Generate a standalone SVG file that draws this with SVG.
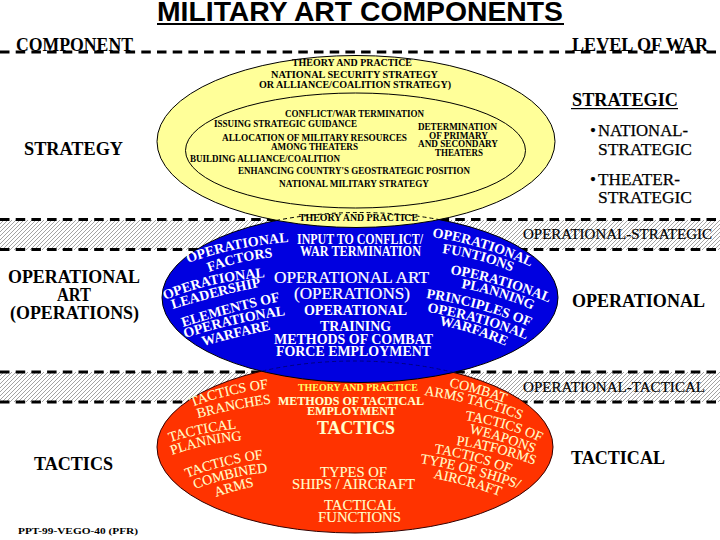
<svg xmlns="http://www.w3.org/2000/svg" width="720" height="540" viewBox="0 0 720 540">
<style>
text{font-family:"Liberation Serif","Times New Roman",serif;fill:#000;}
.s{font-weight:bold;font-size:10px;}
.m{font-size:18px;font-weight:bold;}
.n{font-size:17px;stroke:#000;stroke-width:.25px;}
.o{font-size:14px;stroke:#000;stroke-width:.2px;}
.w{fill:#fff;font-weight:bold;font-size:14px;}
.wl{fill:#fff;font-size:16px;stroke:#fff;stroke-width:.2px;}
.c{fill:#ffc;font-size:14px;stroke:#ffc;stroke-width:.1px;}
.dash{stroke:#000;stroke-width:3;stroke-dasharray:9.5 6.2;fill:none;}
</style>
<defs>
<pattern id="hatch" width="4" height="4" patternUnits="userSpaceOnUse">
<rect width="4" height="4" fill="#fff"/>
<path d="M-1,1 L1,-1 M0,4 L4,0 M3,5 L5,3" stroke="#999" stroke-width=".9"/>
</pattern>
<clipPath id="clipYellow"><ellipse cx="356" cy="141.5" rx="199" ry="86"/></clipPath>
<clipPath id="clipBlue"><ellipse cx="360" cy="297.5" rx="198" ry="85"/></clipPath>
<path id="b1" d="M188,263 Q235,246 290,242"/>
<path id="b2" d="M209,272 Q240,260 276,257"/>
<path id="b3" d="M165,300 Q210,281 268,277"/>
<path id="b4" d="M173,309 Q215,296 263,286"/>
<path id="b5" d="M183,327 Q230,312 281,301"/>
<path id="b6" d="M185,338 Q235,322 286,315"/>
<path id="b7" d="M203,346 Q240,336 274,329"/>
<path id="b8" d="M432,237 Q485,245 531,267"/>
<path id="b9" d="M442,253 Q480,258 515,273"/>
<path id="b10" d="M450,274 Q500,282 550,303"/>
<path id="b11" d="M461,288 Q500,295 535,311"/>
<path id="b12" d="M426,298 Q480,306 533,328"/>
<path id="b13" d="M427,312 Q480,320 527,340"/>
<path id="b14" d="M439,325 Q475,332 508,347"/>
<path id="r1" d="M192,407 Q230,392 275,388"/>
<path id="r2" d="M198,418 Q235,408 275,403"/>
<path id="r3" d="M170,442 Q205,431 243,428"/>
<path id="r4" d="M172,455 Q205,443 245,440"/>
<path id="r5" d="M187,478 Q225,463 271,458"/>
<path id="r6" d="M195,489 Q232,475 272,472"/>
<path id="r7" d="M216,497 Q235,490 257,486"/>
<path id="r8" d="M449,387 Q480,393 510,405"/>
<path id="r9" d="M424,395 Q480,403 529,423"/>
<path id="r10" d="M465,420 Q510,427 547,445"/>
<path id="r11" d="M469,433 Q505,441 538,455"/>
<path id="r12" d="M456,445 Q500,451 542,468"/>
<path id="r13" d="M434,453 Q480,460 518,477"/>
<path id="r14" d="M420,463 Q475,472 527,492"/>
<path id="r15" d="M433,478 Q470,485 505,498"/>
</defs>
<rect width="720" height="540" fill="#fff"/>

<g id="title">
<text x="157" y="21" textLength="406" lengthAdjust="spacingAndGlyphs" style="font-family:'Liberation Sans',Arial,sans-serif;font-size:28px;font-weight:bold">MILITARY ART COMPONENTS</text>
<rect x="157" y="23" width="407" height="2"/>
</g>

<g id="connectors">
<rect x="0" y="220" width="720" height="30" fill="url(#hatch)"/>
<rect x="0" y="372" width="720" height="30" fill="url(#hatch)"/>
<path class="dash" d="M0,52 H720"/>
<path class="dash" d="M0,219.500 H720"/>
<path class="dash" d="M0,249.500 H720"/>
<path class="dash" d="M0,372 H720"/>
<path class="dash" d="M0,402 H720"/>
</g>

<g id="header-labels">
<text class="m" x="16" y="51" textLength="117" lengthAdjust="spacingAndGlyphs">COMPONENT</text>
<text class="m" x="572" y="51" textLength="136" lengthAdjust="spacingAndGlyphs">LEVEL OF WAR</text>
</g>

<g id="node-tactics">
<ellipse cx="355" cy="447" rx="198" ry="86" fill="#f30" stroke="#300" stroke-width="1"/>
</g>
<g id="node-operational">
<ellipse cx="360" cy="297.500" rx="198" ry="85" fill="#0000e0" stroke="#000" stroke-width="1"/>
<ellipse cx="355" cy="447" rx="198" ry="86" fill="none" stroke="#000080" stroke-width="1" stroke-dasharray="4 3" clip-path="url(#clipBlue)"/>
<text class="w" x="297" y="244" textLength="126" lengthAdjust="spacingAndGlyphs">INPUT TO CONFLICT/</text>
<text class="w" x="300" y="256" textLength="121" lengthAdjust="spacingAndGlyphs">WAR TERMINATION</text>
<text class="wl" x="274" y="283" textLength="155" lengthAdjust="spacingAndGlyphs">OPERATIONAL ART</text>
<text class="wl" x="294" y="299" textLength="116" lengthAdjust="spacingAndGlyphs">(OPERATIONS)</text>
<text class="w" x="304" y="315" textLength="103" lengthAdjust="spacingAndGlyphs">OPERATIONAL</text>
<text class="w" x="320" y="331" textLength="71" lengthAdjust="spacingAndGlyphs">TRAINING</text>
<text class="w" x="274" y="344" textLength="159" lengthAdjust="spacingAndGlyphs">METHODS OF COMBAT</text>
<text class="w" x="276" y="356" textLength="155" lengthAdjust="spacingAndGlyphs">FORCE EMPLOYMENT</text>
<text class="w"><textPath href="#b1">OPERATIONAL</textPath></text>
<text class="w"><textPath href="#b2">FACTORS</textPath></text>
<text class="w"><textPath href="#b3">OPERATIONAL</textPath></text>
<text class="w"><textPath href="#b4">LEADERSHIP</textPath></text>
<text class="w"><textPath href="#b5">ELEMENTS OF</textPath></text>
<text class="w"><textPath href="#b6">OPERATIONAL</textPath></text>
<text class="w"><textPath href="#b7">WARFARE</textPath></text>
<text class="w"><textPath href="#b8">OPERATIONAL</textPath></text>
<text class="w"><textPath href="#b9">FUNTIONS</textPath></text>
<text class="w"><textPath href="#b10">OPERATIONAL</textPath></text>
<text class="w"><textPath href="#b11">PLANNING</textPath></text>
<text class="w"><textPath href="#b12">PRINCIPLES OF</textPath></text>
<text class="w"><textPath href="#b13">OPERATIONAL</textPath></text>
<text class="w"><textPath href="#b14">WARFARE</textPath></text>
</g>
<g id="node-strategy">
<ellipse cx="356" cy="141.500" rx="199" ry="86" fill="#ff9" stroke="#000" stroke-width="1"/>
<ellipse cx="360" cy="297.500" rx="198" ry="85" fill="none" stroke="#000" stroke-width="1" stroke-dasharray="4 3" clip-path="url(#clipYellow)"/>
<ellipse cx="355.500" cy="150.500" rx="170" ry="57.500" fill="none" stroke="#000" stroke-width="1"/>
<text class="s" x="292" y="66" textLength="120" lengthAdjust="spacingAndGlyphs">THEORY AND PRACTICE</text>
<text class="s" x="271" y="78" textLength="167" lengthAdjust="spacingAndGlyphs">NATIONAL SECURITY STRATEGY</text>
<text class="s" x="259" y="88" textLength="192" lengthAdjust="spacingAndGlyphs">OR ALLIANCE/COALITION STRATEGY)</text>
<text class="s" x="285" y="117" textLength="139" lengthAdjust="spacingAndGlyphs">CONFLICT/WAR TERMINATION</text>
<text class="s" x="214" y="127" textLength="143" lengthAdjust="spacingAndGlyphs">ISSUING STRATEGIC GUIDANCE</text>
<text class="s" x="418" y="130" textLength="79" lengthAdjust="spacingAndGlyphs">DETERMINATION</text>
<text class="s" x="429" y="139" textLength="59" lengthAdjust="spacingAndGlyphs">OF PRIMARY</text>
<text class="s" x="418" y="147" textLength="80" lengthAdjust="spacingAndGlyphs">AND SECONDARY</text>
<text class="s" x="435" y="156" textLength="48" lengthAdjust="spacingAndGlyphs">THEATERS</text>
<text class="s" x="222" y="141" textLength="185" lengthAdjust="spacingAndGlyphs">ALLOCATION OF MILITARY RESOURCES</text>
<text class="s" x="271" y="150" textLength="87" lengthAdjust="spacingAndGlyphs">AMONG THEATERS</text>
<text class="s" x="190" y="162" textLength="150" lengthAdjust="spacingAndGlyphs">BUILDING ALLIANCE/COALITION</text>
<text class="s" x="238" y="174" textLength="232" lengthAdjust="spacingAndGlyphs">ENHANCING COUNTRY'S GEOSTRATEGIC POSITION</text>
<text class="s" x="279" y="187" textLength="150" lengthAdjust="spacingAndGlyphs">NATIONAL MILITARY STRATEGY</text>
<text class="s" x="299" y="221" textLength="119" lengthAdjust="spacingAndGlyphs">THEORY AND PRACTICE</text>
</g>
<g id="node-tactics-labels">
<text class="s" style="fill:#ff6" x="298" y="391" textLength="120" lengthAdjust="spacingAndGlyphs">THEORY AND PRACTICE</text>
<text class="c" style="font-size:12px;font-weight:bold" x="278" y="405" textLength="146" lengthAdjust="spacingAndGlyphs">METHODS OF TACTICAL</text>
<text class="c" style="font-size:12px;font-weight:bold" x="307" y="415" textLength="89" lengthAdjust="spacingAndGlyphs">EMPLOYMENT</text>
<text class="c" style="font-size:18px;font-weight:bold" x="317" y="434" textLength="78" lengthAdjust="spacingAndGlyphs">TACTICS</text>
<text class="c" x="320" y="477" textLength="67" lengthAdjust="spacingAndGlyphs">TYPES OF</text>
<text class="c" x="292" y="489" textLength="123" lengthAdjust="spacingAndGlyphs">SHIPS / AIRCRAFT</text>
<text class="c" x="324" y="510" textLength="72" lengthAdjust="spacingAndGlyphs">TACTICAL</text>
<text class="c" x="318" y="522" textLength="83" lengthAdjust="spacingAndGlyphs">FUNCTIONS</text>
<text class="c"><textPath href="#r1">TACTICS OF</textPath></text>
<text class="c"><textPath href="#r2">BRANCHES</textPath></text>
<text class="c"><textPath href="#r3">TACTICAL</textPath></text>
<text class="c"><textPath href="#r4">PLANNING</textPath></text>
<text class="c"><textPath href="#r5">TACTICS OF</textPath></text>
<text class="c"><textPath href="#r6">COMBINED</textPath></text>
<text class="c"><textPath href="#r7">ARMS</textPath></text>
<text class="c"><textPath href="#r8">COMBAT</textPath></text>
<text class="c"><textPath href="#r9">ARMS TACTICS</textPath></text>
<text class="c"><textPath href="#r10">TACTICS OF</textPath></text>
<text class="c"><textPath href="#r11">WEAPONS</textPath></text>
<text class="c"><textPath href="#r12">PLATFORMS</textPath></text>
<text class="c"><textPath href="#r13">TACTICS OF</textPath></text>
<text class="c"><textPath href="#r14">TYPE OF SHIPS/</textPath></text>
<text class="c"><textPath href="#r15">AIRCRAFT</textPath></text>
</g>

<g id="component-labels">
<text class="m" x="24" y="155" textLength="99" lengthAdjust="spacingAndGlyphs">STRATEGY</text>
<text class="m" x="8" y="283" textLength="132" lengthAdjust="spacingAndGlyphs">OPERATIONAL</text>
<text class="m" x="57" y="301" textLength="34" lengthAdjust="spacingAndGlyphs">ART</text>
<text class="m" x="10" y="319" textLength="129" lengthAdjust="spacingAndGlyphs">(OPERATIONS)</text>
<text class="m" x="34" y="470" textLength="79" lengthAdjust="spacingAndGlyphs">TACTICS</text>
<text x="18" y="534" style="font-size:9px;font-weight:bold" textLength="120" lengthAdjust="spacingAndGlyphs">PPT-99-VEGO-40 (PFR)</text>
</g>

<g id="level-labels">
<text class="m" x="572" y="106" textLength="106" lengthAdjust="spacingAndGlyphs">STRATEGIC</text>
<rect x="571" y="108" width="107" height="1.200"/>
<text class="n" x="590" y="136">•</text>
<text class="n" x="598" y="136" textLength="90" lengthAdjust="spacingAndGlyphs">NATIONAL-</text>
<text class="n" x="598" y="155" textLength="94" lengthAdjust="spacingAndGlyphs">STRATEGIC</text>
<text class="n" x="590" y="185">•</text>
<text class="n" x="598" y="185" textLength="82" lengthAdjust="spacingAndGlyphs">THEATER-</text>
<text class="n" x="598" y="203" textLength="94" lengthAdjust="spacingAndGlyphs">STRATEGIC</text>
<text class="o" x="523" y="239" textLength="189" lengthAdjust="spacingAndGlyphs">OPERATIONAL-STRATEGIC</text>
<text class="m" x="572" y="307" textLength="133" lengthAdjust="spacingAndGlyphs">OPERATIONAL</text>
<text class="o" x="523" y="392" textLength="182" lengthAdjust="spacingAndGlyphs">OPERATIONAL-TACTICAL</text>
<text class="m" x="571" y="464" textLength="94" lengthAdjust="spacingAndGlyphs">TACTICAL</text>
</g>
</svg>
